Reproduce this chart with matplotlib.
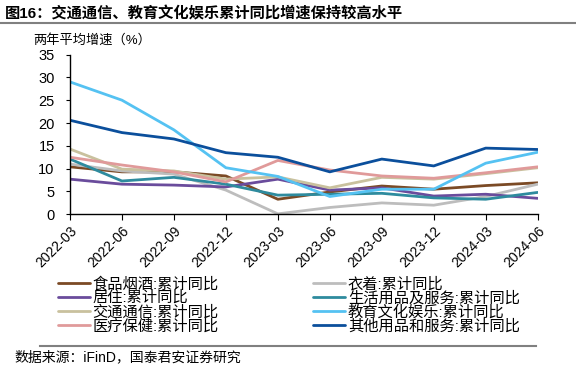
import numpy as np
import matplotlib
matplotlib.use("Agg")
import matplotlib.pyplot as plt
from matplotlib.lines import Line2D

plt.rcParams['font.family'] = ['Liberation Sans', 'Noto Sans CJK SC']

months = ["2022-03", "2022-06", "2022-09", "2022-12", "2023-03", "2023-06",
          "2023-09", "2023-12", "2024-03", "2024-06"]

food = [10.4, 9.3, 9.3, 8.4, 3.3, 4.9, 6.2, 5.5, 6.3, 6.9]
clothing = [11.0, 9.5, 8.8, 5.3, 0.1, 1.5, 2.5, 2.0, 3.9, 6.6]
housing = [7.7, 6.6, 6.4, 6.0, 7.7, 5.3, 5.8, 4.0, 4.4, 3.5]
household = [12.1, 7.3, 8.1, 6.6, 4.2, 4.4, 4.6, 3.6, 3.3, 4.8]
transport = [14.3, 9.9, 9.5, 7.7, 8.2, 5.8, 8.1, 7.7, 8.9, 10.2]
education = [29.0, 25.0, 18.5, 10.2, 8.3, 3.9, 5.5, 5.5, 11.2, 13.6]
medical = [12.5, 10.8, 9.3, 7.1, 11.8, 9.7, 8.4, 7.9, 9.1, 10.4]
other = [20.6, 17.9, 16.5, 13.5, 12.5, 9.3, 12.1, 10.6, 14.5, 14.2]

series = [
    ("食品烟酒:累计同比", food, "#7B4A25"),
    ("衣着:累计同比", clothing, "#BDBDBD"),
    ("居住:累计同比", housing, "#6A4C9C"),
    ("生活用品及服务:累计同比", household, "#2E8B9E"),
    ("交通通信:累计同比", transport, "#C9C19E"),
    ("医疗保健:累计同比", medical, "#E09A9A"),
    ("教育文化娱乐:累计同比", education, "#55C2F2"),
    ("其他用品和服务:累计同比", other, "#0B4F9C"),
]

fig = plt.figure(figsize=(5.76, 3.76), dpi=100)
ax = fig.add_axes([0.1215, 0.430, 0.812, 0.425])

x = np.arange(len(months))
lines = {}
for name, vals, col in series:
    ln, = ax.plot(x, vals, color=col, lw=2.0, solid_capstyle='round')
    lines[name] = ln

ax.set_xlim(0, 8.32)
ax.set_ylim(0, 35)
ax.set_yticks(np.arange(0, 36, 5))
ax.set_xticks(x)
ax.set_xticklabels(months, rotation=45, ha='right', rotation_mode='anchor', fontsize=10)
ax.tick_params(axis='y', labelsize=10.5, length=3, pad=8)
ax.tick_params(axis='x', length=4, pad=3)
for s in ['top', 'right']:
    ax.spines[s].set_visible(False)
for s in ['left', 'bottom']:
    ax.spines[s].set_linewidth(1.0)

# titles and texts
fig.text(0.008, 0.963, "图16：交通通信、教育文化娱乐累计同比增速保持较高水平", fontsize=11,
         fontweight='bold', va='center', ha='left')
fig.add_artist(Line2D([0.0, 1.0], [0.94, 0.94], color='#808080', lw=1.5))
fig.text(0.058, 0.892, "两年平均增速（%）", fontsize=9.5, va='center', ha='left')

order = ["食品烟酒:累计同比", "居住:累计同比", "交通通信:累计同比", "医疗保健:累计同比",
         "衣着:累计同比", "生活用品及服务:累计同比", "教育文化娱乐:累计同比", "其他用品和服务:累计同比"]
fig.legend([lines[n] for n in order], order, ncol=2, loc='upper left',
           bbox_to_anchor=(0.101, 0.265), frameon=False, fontsize=11,
           handlelength=2.1, handletextpad=0.15, labelspacing=-0.02,
           columnspacing=6.2, borderaxespad=0, borderpad=0)

fig.add_artist(Line2D([0.07, 0.93], [0.081, 0.081], color='#808080', lw=1.5))
fig.text(0.025, 0.051, "数据来源：iFinD，国泰君安证券研究", fontsize=10, va='center', ha='left')

fig.savefig("out.png", dpi=100)
